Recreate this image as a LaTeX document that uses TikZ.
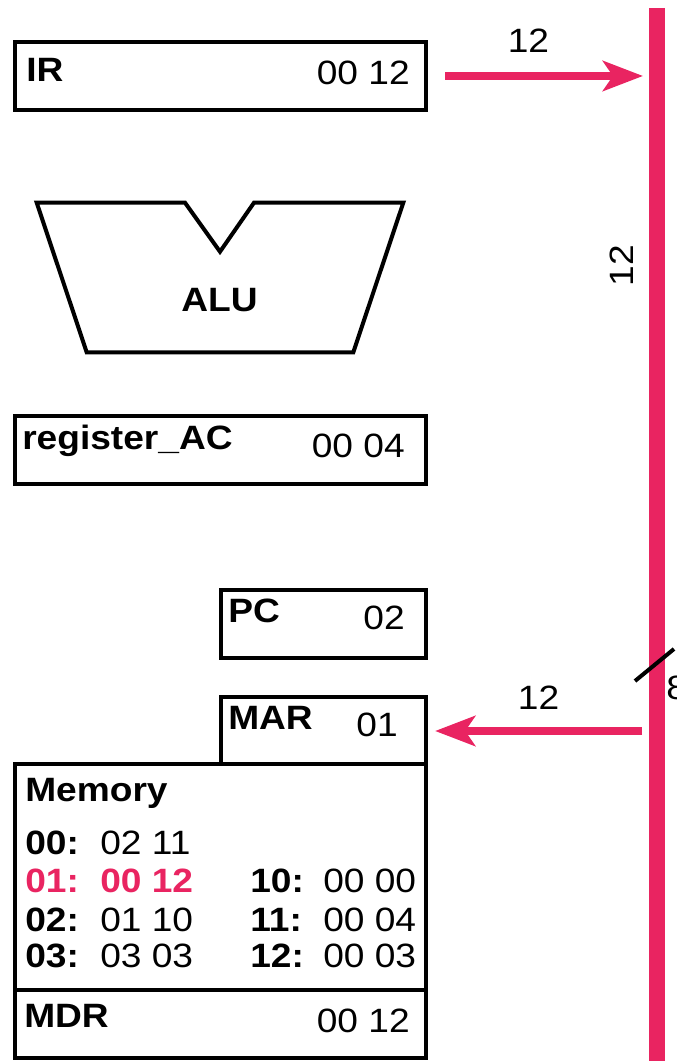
\documentclass[tikz,border=0pt]{standalone}
\usepackage{fontspec}
\setmainfont{Liberation Sans}[FakeStretch=1.1]
\usetikzlibrary{arrows.meta, positioning}
\definecolor{busPink}{RGB}{233,36,97}
\tikzstyle{bus_arrow}=[line width=0.2cm, busPink, -{Stealth[length=1cm, width=0.75cm, inset=0.25cm]}]

\begin{document}
\begin{tikzpicture}
			\tikzset{every node/.style = {font=\fontsize{24}{28}\selectfont, inner sep=0}}
			\tikzset{reg/.style = {draw, line width=0.1cm, minimum height=1.7cm}}
			\tikzset{regname/.style = {anchor=base west, font=\fontsize{24}{28}\selectfont\bfseries}}
			\tikzset{regval/.style = {anchor=base east}}
			\tikzset{memval/.style = {anchor=base west}}
			\tikzset{hot/.style = {busPink, font=\fontsize{24}{28}\selectfont\bfseries}}
			\useasboundingbox (0,0) rectangle (16.925,26.525);

			% registers
			\node[reg, minimum width=10.275cm] (ir) at (5.5125,24.625) {};
			\node[reg, minimum width=10.275cm] (ac) at (5.5125,15.275) {};
			\node[reg, minimum width=5.125cm] (pc) at (8.075,10.925) {};
			\node[reg, minimum width=5.125cm, minimum height=1.675cm] (mar) at (8.075,8.25) {};
			\node[reg, minimum width=10.275cm, minimum height=5.6375cm] (mem) at (5.5125,4.594) {};
			\node[reg, minimum width=10.275cm, minimum height=1.6875cm] (mdr) at (5.5125,0.931) {};

			\node[regname] (irname) at (0.65,24.475) {IR};
			\node[regval] (irval) at (10.25,24.4) {00 12};
			\node[regname] (acname) at (0.55,15.275) {register\_AC};
			\node[regval] (acval) at (10.125,15.075) {00 04};
			\node[regname] (pcname) at (5.7,10.95) {PC};
			\node[regval] (pcval) at (10.125,10.775) {02};
			\node[regname] (marname) at (5.7,8.275) {MAR};
			\node[regval] (marval) at (9.95,8.1) {01};
			\node[regname] (mdrname) at (0.6,0.825) {MDR};
			\node[regval] (mdrval) at (10.25,0.7) {00 12};

			% memory
			\node[regname] (memname) at (0.625,6.475) {Memory};
			\node[regname] (a00) at (0.625,5.15) {00:};
			\node[memval] (v00) at (2.5,5.15) {02 11};
			\node[regname, hot] (a01) at (0.625,4.2) {01:};
			\node[memval, hot] (v01) at (2.5,4.2) {00 12};
			\node[regname] (a02) at (0.625,3.225) {02:};
			\node[memval] (v02) at (2.5,3.225) {01 10};
			\node[regname] (a03) at (0.625,2.325) {03:};
			\node[memval] (v03) at (2.5,2.325) {03 03};
			\node[regname] (a10) at (6.25,4.2) {10:};
			\node[memval] (v10) at (8.075,4.2) {00 00};
			\node[regname] (a11) at (6.25,3.225) {11:};
			\node[memval] (v11) at (8.075,3.225) {00 04};
			\node[regname] (a12) at (6.25,2.325) {12:};
			\node[memval] (v12) at (8.075,2.325) {00 03};

			% ALU
			\draw[line width=0.1cm] (0.9175,21.4575) -- (4.625,21.4575) -- (5.5,20.2325) -- (6.35,21.4575)
				-- (10.0825,21.4575) -- (8.8325,17.7175) -- (2.1675,17.7175) -- cycle;
			\node[regname, anchor=base] (alu) at (5.4875,18.725) {ALU};

			% bus
			\coordinate (bustop) at (16.425,26.325);
			\coordinate (busbot) at (16.425,0);
			\draw[busPink, line width=0.4cm] (bustop) -- (busbot);
			\node[rotate=90] (buswidth) at (15.55,19.875) {12};
			\draw[line width=0.1cm] (15.875,9.5) -- (16.85,10.3);
			\node[anchor=base west] (eight) at (16.65,9.025) {8};

			%edges
			\coordinate (busir) at (16.075,24.625);
			\coordinate (busmar) at (16.05,8.25);
			\draw[bus_arrow, shorten <=0.425cm] (ir.east) to (busir);
			\draw[bus_arrow, shorten >=0.19cm] (busmar) to (mar.east);
			\node[anchor=base] (irbits) at (13.2125,25.2) {12};
			\node[anchor=base] (marbits) at (13.4625,8.775) {12};
\end{tikzpicture}
\end{document}
